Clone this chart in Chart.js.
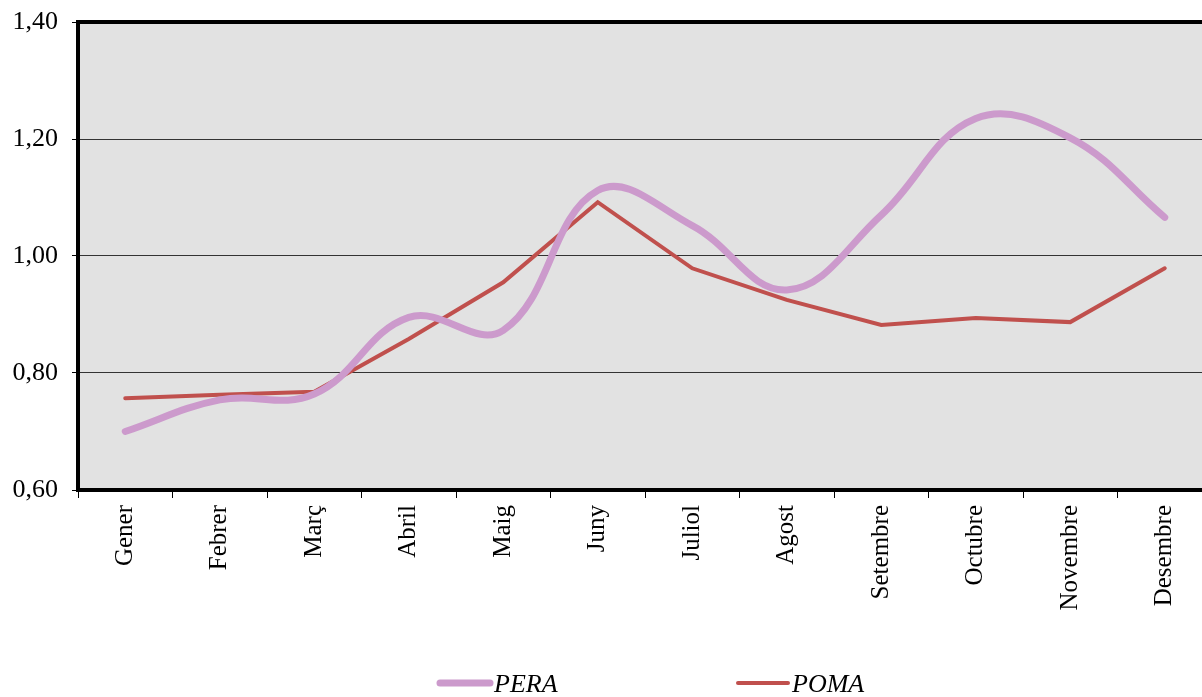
<!DOCTYPE html>
<html>
<head>
<meta charset="utf-8">
<script src="https://cdn.jsdelivr.net/npm/chart.js@4/dist/chart.umd.min.js"></script>
<style>
  html, body { margin: 0; padding: 0; background: #fff; overflow: hidden; }
  #wrap { width: 1212px; height: 697px; position: relative; }
</style>
</head>
<body>
<div id="wrap"><canvas id="fruitChart"></canvas></div>
<script>
const months = ["Gener", "Febrer", "Març", "Abril", "Maig", "Juny", "Juliol", "Agost", "Setembre", "Octubre", "Novembre", "Desembre"];
const pera = [0.70, 0.754, 0.764, 0.895, 0.873, 1.112, 1.052, 0.942, 1.07, 1.235, 1.202, 1.066];
const poma = [0.757, 0.763, 0.768, 0.858, 0.955, 1.092, 0.979, 0.925, 0.882, 0.894, 0.887, 0.979];
const yTicks = [0.60, 0.80, 1.00, 1.20, 1.40];

const serif = '"Liberation Serif", "Times New Roman", serif';

// plot background + top frame line
const frame = {
    id: 'frame',
    beforeDraw(chart) {
        const { ctx, chartArea: a } = chart;
        ctx.save();
        ctx.fillStyle = '#e2e2e2';
        ctx.fillRect(a.left, a.top, a.right - a.left, a.bottom - a.top);
        ctx.restore();
    },
    afterDatasetsDraw(chart) {
        const { ctx, chartArea: a } = chart;
        ctx.save();
        ctx.strokeStyle = '#000';
        ctx.lineWidth = 4;
        ctx.beginPath();
        ctx.moveTo(a.left - 2, a.top);
        ctx.lineTo(a.right, a.top);
        ctx.stroke();
        ctx.restore();
    }
};

// Excel-like legend at the bottom
const bottomLegend = {
    id: 'bottomLegend',
    afterDraw(chart) {
        const { ctx } = chart;
        const starts = [437, 735];
        ctx.save();
        ctx.font = 'italic 26px ' + serif;
        ctx.textBaseline = 'middle';
        ctx.textAlign = 'left';
        chart.data.datasets.forEach((ds, i) => {
            const x = starts[i], y = 683;
            ctx.strokeStyle = ds.borderColor;
            ctx.lineWidth = ds.borderWidth;
            ctx.lineCap = 'round';
            ctx.beginPath();
            ctx.moveTo(x + 3, y);
            ctx.lineTo(x + 53, y);
            ctx.stroke();
            ctx.fillStyle = '#000';
            ctx.fillText(ds.label, x + 57, y + 2);
        });
        ctx.restore();
    }
};

new Chart(document.getElementById('fruitChart'), {
    type: 'line',
    data: {
        labels: months,
        datasets: [{
            label: 'PERA',
            data: pera,
            borderColor: '#cc9acc',
            borderWidth: 7,
            borderCapStyle: 'round',
            tension: 0.4,
            pointRadius: 0,
            fill: false
        }, {
            label: 'POMA',
            data: poma,
            borderColor: '#c0504d',
            borderWidth: 4,
            borderCapStyle: 'round',
            tension: 0,
            pointRadius: 0,
            fill: false
        }]
    },
    options: {
        responsive: true,
        maintainAspectRatio: false,
        animation: false,
        layout: { padding: { top: 22, left: 0, right: 0, bottom: 0 } },
        plugins: {
            legend: { display: false },
            tooltip: { enabled: false }
        },
        scales: {
            x: {
                offset: true,
                afterFit(scale) { scale.height = 207; },
                grid: {
                    offset: true,
                    drawOnChartArea: false,
                    drawTicks: true,
                    tickLength: 8,
                    color: '#000',
                    lineWidth: 1
                },
                border: { display: true, color: '#000', width: 4 },
                ticks: {
                    color: '#000',
                    font: { family: serif, size: 25 },
                    minRotation: 90,
                    maxRotation: 90,
                    autoSkip: false,
                    padding: 7
                }
            },
            y: {
                min: 0.6,
                max: 1.4,
                afterFit(scale) {
                    scale.width = 78;
                    scale.paddingTop = 0;
                    scale.paddingBottom = 0;
                },
                afterBuildTicks(scale) { scale.ticks = yTicks.map(v => ({ value: v })); },
                grid: {
                    color: ctx => (ctx.tick && (ctx.tick.value === 0.6 || ctx.tick.value === 1.4)) ? 'rgba(0,0,0,0)' : '#333',
                    lineWidth: 1,
                    borderDash: [1, 1],
                    tickLength: 6,
                    tickColor: '#000',
                    tickBorderDash: [],
                    drawTicks: true
                },
                border: { display: true, color: '#000', width: 4 },
                ticks: {
                    color: '#000',
                    font: { family: serif, size: 26 },
                    padding: 14,
                    callback: v => Number(v).toFixed(2).replace('.', ',')
                }
            }
        }
    },
    plugins: [frame, bottomLegend]
});
</script>
</body>
</html>
